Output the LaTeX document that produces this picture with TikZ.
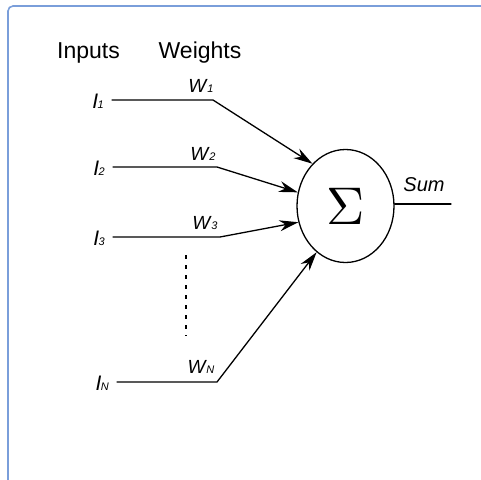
\documentclass[tikz,border=0pt]{standalone}
\usepackage{fontspec}
\usepackage{graphicx}
\setmainfont{Liberation Sans}
\usetikzlibrary{arrows.meta,shapes.geometric}
\definecolor{framecol}{RGB}{122,158,218}
\newcommand{\lbl}[2]{\textit{#1}\kern-0.5pt{\fontsize{11}{11}\selectfont\textit{#2}}}
\begin{document}
\begin{tikzpicture}[x=1pt,y=-1pt,
  wire/.style={line width=1.3pt,line cap=round},
  feed/.style={wire,-{Stealth[length=19pt,width=11pt]}},
  head/.style={font=\fontsize{23}{26}\selectfont,inner sep=0pt},
  inlabel/.style={font=\fontsize{21}{23}\selectfont,inner sep=0pt,anchor=east,xshift=-8pt,yshift=-1pt},
  wlabel/.style={font=\fontsize{19}{21}\selectfont,inner sep=0pt,anchor=base},
  adder/.style={ellipse,draw,line width=1.3pt,minimum width=97pt,minimum height=113pt,inner sep=0pt}]
\useasboundingbox (0,0) rectangle (481,479);
% window frame
\draw[framecol,line width=1.6pt,rounded corners=5pt] (8,485) -- (8,6) -- (490,6);
% column headings
\node[head] (hin) at (88.5,53) {Inputs};
\node[head] (hw) at (200,53) {Weights};
% summing junction
\node[adder] (sum) at (345.5,206) {\scalebox{5.3}{$\Sigma$}};
% line starts of the inputs
\coordinate (s1) at (112,100);
\coordinate (s2) at (113,167);
\coordinate (s3) at (113,237);
\coordinate (sN) at (117,382);
\node[inlabel] (i1) at (s1) {\lbl{I}{1}};
\node[inlabel] (i2) at (s2) {\lbl{I}{2}};
\node[inlabel] (i3) at (s3) {\lbl{I}{3}};
\node[inlabel] (iN) at (sN) {\lbl{I}{N}};
% weight bends
\coordinate (w1) at (213,100);
\coordinate (w2) at (217,167);
\coordinate (w3) at (220,237);
\coordinate (wN) at (217,382);
\node[wlabel] (lw1) at (201,92) {\lbl{W}{1}};
\node[wlabel] (lw2) at (203,160) {\lbl{W}{2}};
\node[wlabel] (lw3) at (205,229) {\lbl{W}{3}};
\node[wlabel] (lwN) at (201,373) {\lbl{W}{N}};
% weighted connections
\draw[feed] (s1) -- (w1) -- (sum.128);
\draw[feed] (s2) -- (w2) -- (sum.164);
\draw[feed] (s3) -- (w3) -- (sum.199);
\draw[feed] (sN) -- (wN) -- (sum.238);
% omitted inputs
\coordinate (d1) at (186,255);
\coordinate (d2) at (186,336);
\draw[line width=1.4pt,dash pattern=on 4pt off 6pt] (d1) -- (d2);
% output
\coordinate (out) at (451,204);
\draw[wire] (sum.east |- out) -- (out);
\node[font=\fontsize{20}{22}\selectfont\itshape,inner sep=0pt,anchor=base] (lsum) at (424,191) {Sum};
\end{tikzpicture}
\end{document}
